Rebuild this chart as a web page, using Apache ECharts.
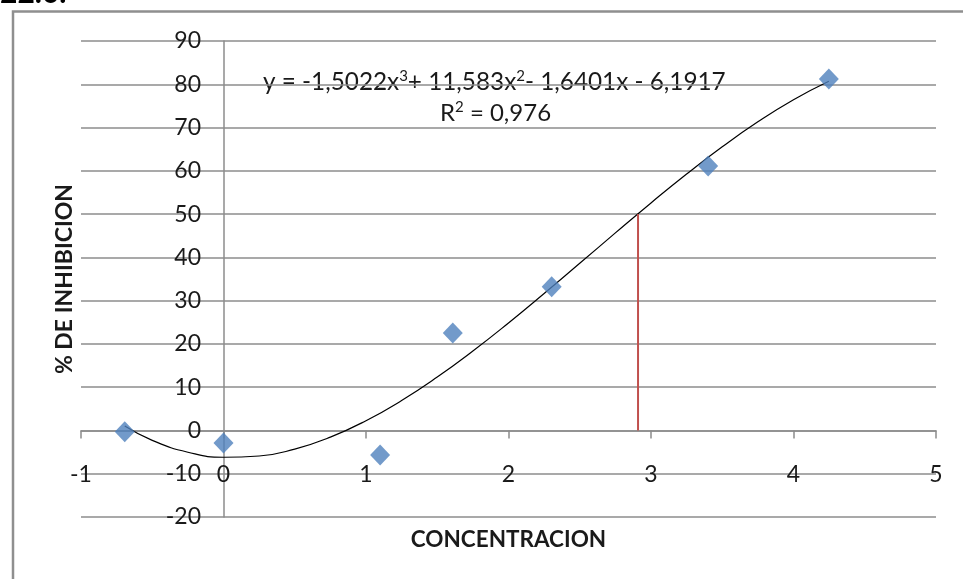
<!DOCTYPE html>
<html>
<head>
<meta charset="utf-8">
<script src="https://cdn.jsdelivr.net/npm/echarts@6/dist/echarts.min.js"></script>
<style>
html,body{margin:0;padding:0;background:#fff;}
#chart{width:963px;height:579px;}
</style>
</head>
<body>
<div id="chart"></div>
<script>
// Data
var concentracion = [-0.693, 0, 1.099, 1.609, 2.303, 3.401, 4.248];
var inhibicion    = [-0.3, -2.9, -5.7, 22.5, 33.2, 61.1, 81.2];
// Trendline points
var trendX = [-0.693, -0.5, -0.25, 0, 0.25, 0.5, 0.75, 1, 1.25, 1.5, 1.75, 2, 2.25, 2.5, 2.75, 3, 3.25, 3.5, 3.75, 4, 4.248];
var trendY = [1.01, -2.29, -5.03, -6.19, -5.90, -4.30, -1.54, 2.25, 6.92, 12.34, 18.36, 24.84, 31.65, 38.63, 45.65, 52.58, 59.26, 65.55, 71.33, 76.44, 80.71];
// Red marker line (IC50)
var ic50X = [2.909, 2.909];
var ic50Y = [0, 50];
var xTicks = {min: -1, max: 5, interval: 1};
var yTicks = {min: -20, max: 90, interval: 10};
var equationText = 'y = -1,5022x{s|3}+ 11,583x{s|2}- 1,6401x - 6,1917';
var r2Text = 'R{s|2} = 0,976';
var xTitle = 'CONCENTRACION';
var yTitle = '% DE INHIBICION';

function zip(a, b) { return a.map(function (v, i) { return [v, b[i]]; }); }

var FONT = 'Lato';
var GRAY = '#8c8c8c';
var TXT = '#1a1a1a';
var supRich = {s: {fontFamily: FONT, fontSize: 15, fill: TXT, verticalAlign: 'top', lineHeight: 27}};

var chart = echarts.init(document.getElementById('chart'));
chart.setOption({
  animation: false,
  backgroundColor: '#fff',
  grid: {left: 81, right: 27, top: 41, bottom: 62, containLabel: false, outerBoundsMode: 'none'},
  xAxis: {
    type: 'value', min: xTicks.min, max: xTicks.max, interval: xTicks.interval,
    name: xTitle, nameLocation: 'middle', nameGap: 11,
    nameTextStyle: {fontFamily: FONT, fontWeight: 'bold', fontSize: 22.5, color: TXT},
    axisLine: {onZero: true, lineStyle: {color: GRAY, width: 1.5}},
    axisTick: {show: true, length: 8, lineStyle: {color: GRAY, width: 1.5}},
    axisLabel: {margin: -54, fontFamily: FONT, fontSize: 23, color: TXT},
    splitLine: {show: false}
  },
  yAxis: {
    type: 'value', min: yTicks.min, max: yTicks.max, interval: yTicks.interval,
    name: yTitle, nameLocation: 'middle', nameGap: 5, nameRotate: 90,
    nameTextStyle: {fontFamily: FONT, fontWeight: 'bold', fontSize: 23, color: TXT},
    axisLine: {onZero: true, lineStyle: {color: GRAY, width: 1.5}},
    axisTick: {show: false},
    axisLabel: {margin: -120, fontFamily: FONT, fontSize: 23, color: TXT},
    splitLine: {show: true, lineStyle: {color: GRAY, width: 1.5}}
  },
  series: [
    {
      type: 'line', data: zip(trendX, trendY), smooth: true, showSymbol: false,
      lineStyle: {color: '#000', width: 1.2}, z: 3, silent: true
    },
    {
      type: 'line', data: zip(ic50X, ic50Y), showSymbol: false,
      lineStyle: {color: '#C0504D', width: 2}, z: 3
    },
    {
      type: 'scatter', data: zip(concentracion, inhibicion), symbol: 'diamond',
      symbolSize: [20, 21], itemStyle: {color: '#4F81BD'}, z: 5
    }
  ],
  graphic: [
    {type: 'rect', shape: {x: 13, y: 11.5, width: 1000, height: 700},
     style: {fill: null, stroke: '#8f8f8f', lineWidth: 2.5}, silent: true},
    {type: 'text', left: 0, top: -22,
     style: {text: '22.0.', font: 'bold 30px Lato', fill: '#000'}},
    {type: 'text', left: 263, top: 69,
     style: {text: equationText, font: '24.3px Lato', fill: TXT, lineHeight: 27, rich: supRich}},
    {type: 'text', left: 440, top: 100,
     style: {text: r2Text, font: '24px Lato', fill: TXT, lineHeight: 27, rich: supRich}}
  ]
});
</script>
</body>
</html>
